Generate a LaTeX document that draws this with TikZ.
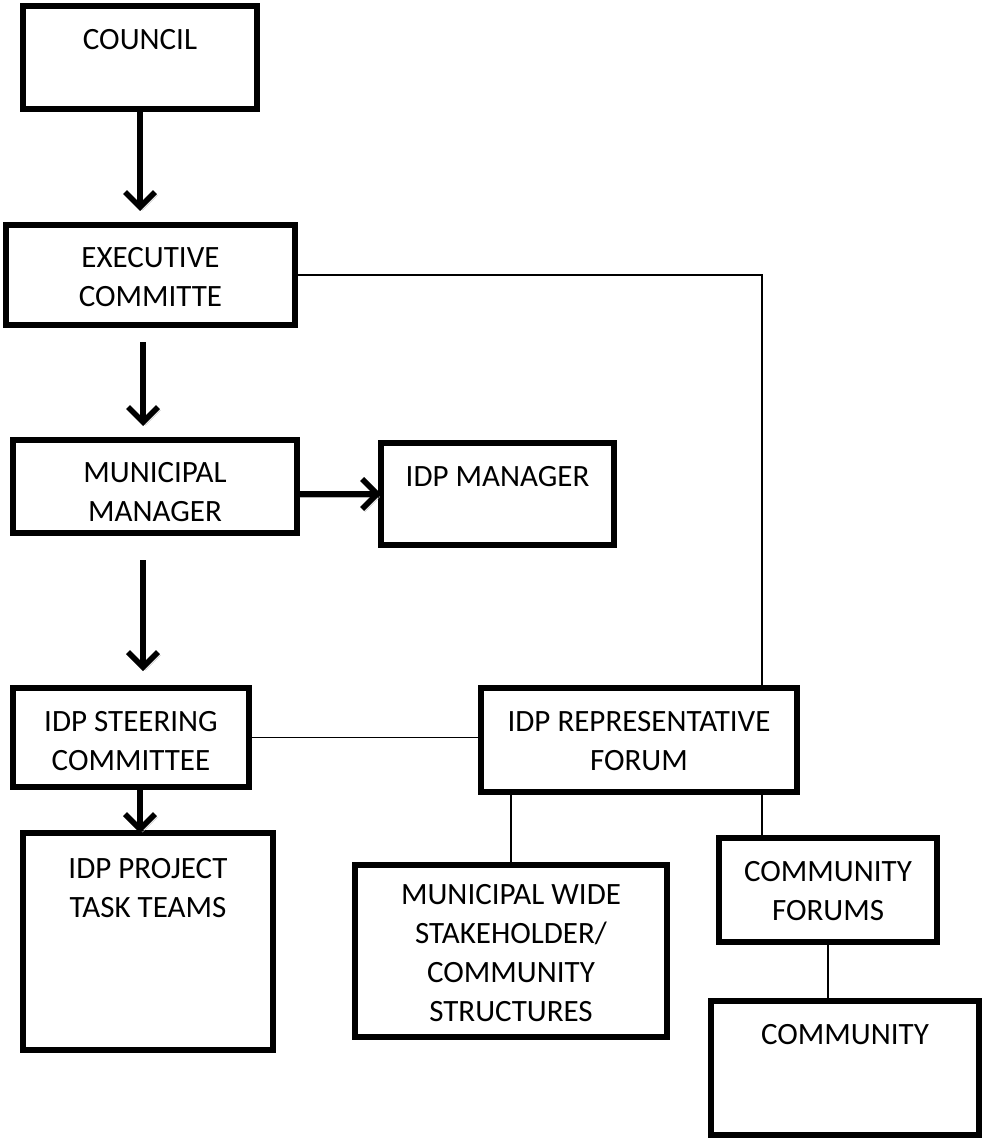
\documentclass[tikz,border=0pt]{standalone}
\usepackage{fontspec}
\setmainfont{Carlito}
\usetikzlibrary{arrows.meta,calc}
\newcommand\bx[7]{%
  \node[bxs] (#1) at ({(#2+#4)/2},{(#3+#5)/2})
  {\parbox[c][\dimexpr #5pt-#3pt-6pt\relax][t]{\dimexpr #4pt-#2pt-6pt\relax}{\centering\vspace*{#6pt}#7\par}};}
\tikzset{
  bxs/.style={draw=black, line width=6pt, rectangle, inner sep=0pt, outer sep=0pt,
    font=\fontsize{31}{39}\selectfont},
  arr/.style={line width=5.5pt, -{Straight Barb[length=15pt,width=30pt,line width=5.5pt]},
    preaction={draw=gray!60, transform canvas={shift={(2.5pt,-3pt)}}}},
  thin/.style={line width=1.6pt}
}
\begin{document}
\begin{tikzpicture}[x=1pt,y=-1pt]
\useasboundingbox (0,0) rectangle (983,1139);
\bx{council}{20}{3}{260}{112}{16}{\strut COUNCIL}
\bx{exec}{3}{222}{298}{328}{15}{\strut EXECUTIVE\\\strut COMMITTE}
\bx{mm}{10}{437}{300}{536}{15}{\strut MUNICIPAL\\\strut MANAGER}
\bx{idpm}{378}{440}{617}{548}{16}{\strut IDP MANAGER}
\bx{steer}{10}{685}{252}{790}{16}{\strut IDP STEERING\\\strut COMMITTEE}
\bx{rep}{478}{685}{800}{795}{16}{\strut IDP REPRESENTATIVE\\\strut FORUM}
\bx{tasks}{20}{830}{276}{1053}{18}{\strut IDP PROJECT\\\strut TASK TEAMS}
\bx{mwide}{352}{862}{670}{1040}{12}{\strut MUNICIPAL WIDE\\\strut STAKEHOLDER/\\\strut COMMUNITY\\\strut STRUCTURES}
\bx{cforums}{716}{835}{940}{945}{16}{\strut COMMUNITY\\\strut FORUMS}
\bx{community}{708}{998}{982}{1138}{16}{\strut COMMUNITY}

% arrows
\draw[arr, shorten >=14pt] (council.south) -- ([xshift=-10.5pt]exec.north);
\draw[arr, shorten <=17pt, shorten >=14pt] ([xshift=-7.5pt]exec.south) -- ([xshift=-12pt]mm.north);
\draw[arr, shorten <=27pt, shorten >=17pt] ([xshift=-12pt]mm.south) -- ([xshift=12pt]steer.north);
\draw[arr] ([xshift=9pt]steer.south) -- ([xshift=-8pt]tasks.north);
\draw[arr] (mm.east |- idpm.west) -- (idpm.west);

% thin connectors
\draw[thin] (exec.east) -| ([xshift=123pt]rep.north);
\draw[thin] (steer.east) -- (steer.east -| rep.west);
\draw[thin] (mwide.north |- rep.south) -- (mwide.north);
\draw[thin] ([xshift=123pt]rep.south) -- ([xshift=123pt]rep.south |- cforums.north);
\draw[thin] (cforums.south) -- (cforums.south |- community.north);
\end{tikzpicture}
\end{document}
